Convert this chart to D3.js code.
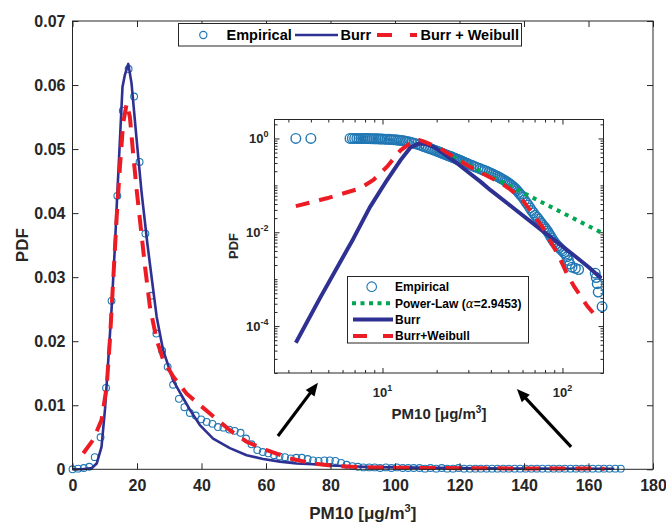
<!DOCTYPE html>
<html><head><meta charset="utf-8">
<script src="https://cdn.jsdelivr.net/npm/d3@7"></script>
<style>body{margin:0;background:#fff}</style>
</head><body><svg id="c" width="666" height="522"></svg>
<script>
// ---------- main plot data (PDF, linear axes) ----------
const binX = [0,1.7,3.5,5.2,6.9,8.7,10.4,12.1,13.9,15.6,
17.4,19.1,20.8,22.6,24.3,26.0,27.8,29.5,31.2,33.0,
34.7,36.4,38.2,39.9,41.6,43.4,45.1,46.8,48.6,50.3,
52.1,53.8,55.5,57.3,59.0,60.7,62.5,64.2,65.9,67.7,
69.4,71.1,72.9,74.6,76.3,78.1,79.8,81.5,83.3,85.0,
86.8,88.5,90.2,92.0,93.7,95.4,97.2,98.9,100.6,102.4,
104.1,105.8,107.6,109.3,111.0,112.8,114.5,116.2,118.0,119.7,
121.4,123.2,124.9,126.6,128.4,130.1,131.8,133.6,135.3,137.1,
138.8,140.5,142.3,144.0,145.7,147.5,149.2,150.9,152.7,154.4,
156.1,157.9,159.6,161.3,163.1,164.8,166.5,168.3,170.0];
const empPdf = [0,0.0001,0.0002,0.0004,0.0019,0.0050,0.0127,0.0263,0.0427,0.0560,
0.0625,0.0582,0.0480,0.0368,0.0271,0.0212,0.0185,0.0160,0.0132,0.0110,
0.0097,0.0088,0.0084,0.0078,0.0074,0.0071,0.0066,0.0065,0.0062,0.0060,
0.0057,0.0048,0.0039,0.0030,0.0027,0.0025,0.0022,0.0020,0.0019,0.0017,
0.0018,0.0018,0.0016,0.0014,0.0013,0.0014,0.0014,0.0013,0.0010,0.0007,
0.0005,0.0004,0.0003,0.0003,0.0003,0.0002,0.0003,0.0002,0.0003,0.0002,
0.0002,0.0002,0.0002,0.0001,0.0002,0.0001,0.0002,0.0001,0.0001,0.0002,
0.0001,0.0001,0.0001,0.0001,0.0001,0.0001,0.0001,0.0001,0.0001,0.0001,
0.0001,0.0001,0.0001,0.0001,0.0001,0.0001,0.0001,0.0001,0.0001,0.0001,
0.0001,0.0001,0.0001,0.0001,0.0001,0.0001,0.0001,0.0001,0.0001];

const burrX = [0,3,6,7.5,9.0,10.1,11.1,12.1,13.2,13.7,
14.7,15.5,16.2,17.3,18.3,19.9,21.4,23.2,24.5,26.1,
28.1,31.2,33.3,36.4,39.5,43.6,48.8,54,59.1,64.3,
69.5,74.6,80,90,100,120,140,168];
const burrPdf = [0,0,0.0002,0.0009,0.0035,0.0095,0.0171,0.0249,0.0353,0.041,
0.0514,0.0597,0.0615,0.0633,0.0603,0.0514,0.0433,0.0353,0.0301,0.0238,
0.0186,0.0139,0.0120,0.0093,0.0069,0.0048,0.0033,0.0022,0.0016,0.0012,
0.0009,0.0008,0.0006,0.0004,0.0003,0.00018,0.00012,0.00008];

const bwX = [3.35,6.4,9.0,10.6,11.6,12.4,13.2,13.7,14.7,15.7,
16.8,17.8,18.8,19.9,20.9,22.5,24.0,26.1,28.1,31.2,
35.4,42.6,48.8,54,60.2,67.4,74.6,81.9,90.1,110,
130,165];
const bwPdf = [0.0025,0.0046,0.0077,0.0129,0.0202,0.0275,0.0348,0.0394,0.0472,0.0540,
0.0571,0.0550,0.0493,0.0436,0.0390,0.0316,0.0254,0.0202,0.0171,0.0145,
0.0118,0.0087,0.0061,0.0043,0.0030,0.0017,0.0009,0.0005,0.0003,0.0002,
0.00015,0.0001];

const xTicksMain = [0,20,40,60,80,100,120,140,160,180];
const yTicksMain = [0,0.01,0.02,0.03,0.04,0.05,0.06,0.07];

// ---------- inset data (log-log) ----------
const ccdfX = [3.3,4.0,6.6,6.8,7.0,7.2,7.4,7.6,7.8,8.0,
8.2,8.4,8.6,8.8,9.0,9.2,9.4,9.6,9.8,10.0,
10.3,10.6,10.9,11.2,11.5,11.8,12.1,12.4,12.7,13.0,
13.3,13.6,14.0,14.5,15.0,15.5,16.0,16.5,17.0,17.5,
18.0,18.5,19.0,19.5,20.0,20.5,21.0,21.5,22.0,22.5,
23.0,23.5,24.0,24.5,25.0,25.5,26.0,26.5,27.0,27.5,
28.0,28.5,29.0,29.5,30,31,32,33,34,35,
36,37,38,39,40,41,42,43,44,45,
46,47,48,49,50,51,52,53,54,55,
56,57,58,59,60,61.5,63,64.5,66,67.5,
69,70.5,72,73.5,75,76.5,78,79.5,81,82.5,
84,85.5,87,88.5,90,92,94,96,98,100,
102,104,106,108,110,113,118,123,152,154,
156,158,166];
const ccdfY = [1.0,0.9997,0.9995,0.9992,0.999,0.9985,0.998,0.997,0.996,0.995,
0.994,0.992,0.990,0.988,0.986,0.984,0.981,0.978,0.975,0.972,
0.967,0.962,0.956,0.950,0.943,0.935,0.926,0.916,0.905,0.893,
0.880,0.866,0.850,0.820,0.790,0.760,0.730,0.700,0.670,0.645,
0.620,0.600,0.580,0.560,0.540,0.520,0.500,0.482,0.465,0.450,
0.435,0.422,0.410,0.397,0.385,0.372,0.360,0.350,0.340,0.330,
0.320,0.310,0.300,0.292,0.285,0.272,0.258,0.245,0.235,0.225,
0.215,0.207,0.199,0.190,0.182,0.174,0.166,0.159,0.152,0.145,
0.138,0.132,0.125,0.119,0.113,0.107,0.101,0.095,0.089,0.083,
0.077,0.071,0.066,0.061,0.056,0.049,0.043,0.038,0.033,0.029,
0.026,0.023,0.021,0.019,0.017,0.0155,0.014,0.0128,0.0117,0.0106,
0.0095,0.0085,0.0076,0.0068,0.0062,0.0056,0.0051,0.0047,0.0043,0.0040,
0.0037,0.0034,0.0030,0.0025,0.0021,0.0018,0.0017,0.0016,0.00134,0.00108,
0.0008,0.00053,0.00026];

const plX = [18,165];
const plY = [0.74,0.0098];
const plAlpha = "2.9453";

const bLogX = [3.3,4.5,6.9,8.5,10.6,12.6,14.3,15.9,17.5,19,
20,22,25,30,35,40,50,60,70,80,
90,100,120,140,164];
const bLogY = [4.4e-5,4.0e-4,7.4e-3,0.034,0.13,0.345,0.64,0.78,0.76,0.67,
0.60,0.47,0.33,0.19,0.12,0.078,0.040,0.023,0.0145,0.0097,
0.0069,0.0050,0.0029,0.0018,0.00105];

const bwLogX = [3.3,4.9,7.5,8.9,10.6,12.6,14.9,16,17,19.2,
21.4,24,30,35,40,45,50,55,60,66,
72,79,85,95,105,116,138,157];
const bwLogY = [0.036,0.053,0.086,0.13,0.25,0.56,0.89,0.93,0.86,0.70,
0.58,0.44,0.26,0.19,0.145,0.115,0.088,0.066,0.048,0.030,
0.019,0.0115,0.0068,0.0032,0.0014,0.0007,0.00026,0.000148];

const xMajorInset = [10,100];
const yMajorInset = [1e-4,1e-2,1];

// arrows (in main-axis data units)
const arrowTail = [[63.7,0.0052],[154.6,0.0035]];
const arrowHead = [[76.1,0.0135],[137.8,0.01255]];

// ---------- drawing ----------
const FONT = '"Liberation Sans", Arial, Helvetica, sans-serif';
const INK = "#262626";
const C_EMP = "#2077b4", C_BURR = "#2e3192", C_BW = "#ed1c24", C_PL = "#00a651";
const svg = d3.select("#c");
svg.append("rect").attr("width",666).attr("height",522).attr("fill","#fff");

const mx = d3.scaleLinear().domain([0,180]).range([72.5,653]);
const my = d3.scaleLinear().domain([0,0.07]).range([469.3,21]);

function styleAxis(g,size){
  g.attr("font-family",FONT).attr("font-size",size).attr("font-weight","bold");
  g.selectAll("text").attr("fill",INK);
  g.selectAll("line").attr("stroke",INK);
  g.select(".domain").remove();
}

const gM = svg.append("g");
gM.selectAll("circle").data(binX.map((v,i)=>[v,empPdf[i]])).join("circle")
  .attr("cx",d=>mx(d[0])).attr("cy",d=>my(d[1])).attr("r",3.4)
  .attr("fill","none").attr("stroke",C_EMP).attr("stroke-width",1.1);
const lineM = d3.line().x(d=>mx(d[0])).y(d=>my(d[1]));
gM.append("path").datum(burrX.map((v,i)=>[v,burrPdf[i]])).attr("d",lineM)
  .attr("fill","none").attr("stroke",C_BURR).attr("stroke-width",2.6).attr("stroke-linejoin","round");
gM.append("path").datum(bwX.map((v,i)=>[v,bwPdf[i]])).attr("d",lineM)
  .attr("fill","none").attr("stroke",C_BW).attr("stroke-width",4).attr("stroke-dasharray","16,10");

gM.append("g").attr("transform",`translate(0,${my(0)})`)
  .call(d3.axisBottom(mx).tickValues(xTicksMain).tickSize(-6).tickPadding(10).tickFormat(d=>String(d)))
  .call(g=>styleAxis(g,16));
gM.append("g").attr("transform",`translate(0,${my(0.07)})`)
  .call(d3.axisTop(mx).tickValues(xTicksMain).tickSize(-6).tickFormat(""))
  .call(g=>styleAxis(g,16));
gM.append("g").attr("transform",`translate(${mx(0)},0)`)
  .call(d3.axisLeft(my).tickValues(yTicksMain).tickSize(-6).tickPadding(7).tickFormat(d=>d===0?"0":d.toFixed(2)))
  .call(g=>styleAxis(g,16));
gM.append("g").attr("transform",`translate(${mx(180)},0)`)
  .call(d3.axisRight(my).tickValues(yTicksMain).tickSize(-6).tickFormat(""))
  .call(g=>styleAxis(g,16));
gM.append("rect").attr("x",mx(0)).attr("y",my(0.07)).attr("width",mx(180)-mx(0)).attr("height",my(0)-my(0.07))
  .attr("fill","none").attr("stroke",INK).attr("stroke-width",1);

// axis titles
gM.append("text").attr("transform",`translate(28,${(my(0)+my(0.07))/2}) rotate(-90)`)
  .attr("text-anchor","middle").attr("font-family",FONT).attr("font-weight","bold").attr("font-size",17).attr("fill",INK).text("PDF");
const xl = gM.append("text").attr("x",(mx(0)+mx(180))/2).attr("y",519).attr("text-anchor","middle")
  .attr("font-family",FONT).attr("font-weight","bold").attr("font-size",17).attr("fill",INK);
xl.append("tspan").text("PM10 [μg/m");
xl.append("tspan").attr("font-size",11).attr("dy",-7).text("3");
xl.append("tspan").attr("dy",7).text("]");

// main legend
const lg = svg.append("g").attr("font-family",FONT).attr("font-weight","bold").attr("font-size",14.5).attr("fill","#000");
lg.append("rect").attr("x",178.5).attr("y",23.5).attr("width",343).attr("height",22.5).attr("fill","#fff").attr("stroke",INK);
lg.append("circle").attr("cx",203.3).attr("cy",35).attr("r",3.6).attr("fill","none").attr("stroke",C_EMP).attr("stroke-width",1.2);
lg.append("text").attr("x",226.5).attr("y",40.2).text("Empirical");
lg.append("line").attr("x1",295).attr("x2",338).attr("y1",35).attr("y2",35).attr("stroke",C_BURR).attr("stroke-width",2.6);
lg.append("text").attr("x",340.5).attr("y",40.2).text("Burr");
lg.append("line").attr("x1",377).attr("x2",417).attr("y1",35).attr("y2",35).attr("stroke",C_BW).attr("stroke-width",4).attr("stroke-dasharray","15,18");
lg.append("text").attr("x",420.5).attr("y",40.2).text("Burr + Weibull");

// arrows
arrowTail.forEach((t,i)=>{
  const h = arrowHead[i];
  const x0=mx(t[0]), y0=my(t[1]), x1=mx(h[0]), y1=my(h[1]);
  const dx=x1-x0, dy=y1-y0, L=Math.hypot(dx,dy), ux=dx/L, uy=dy/L;
  const hl=13, hw=5.5, bx=x1-ux*hl, by=y1-uy*hl;
  svg.append("line").attr("x1",x0).attr("y1",y0).attr("x2",bx+ux*2).attr("y2",by+uy*2)
    .attr("stroke","#000").attr("stroke-width",3.2);
  svg.append("path").attr("d",`M${x1},${y1}L${bx-uy*hw},${by+ux*hw}L${bx+uy*hw},${by-ux*hw}Z`).attr("fill","#000");
});

// ---------- inset ----------
const ix = d3.scaleLog().domain([Math.pow(10,0.4),Math.pow(10,2.228)]).range([274.5,603.5]);
const iy = d3.scaleLog().domain([1e-5,Math.pow(10,0.404)]).range([373,119.5]);
const gI = svg.append("g");
gI.append("rect").attr("x",274.5).attr("y",119.5).attr("width",329).attr("height",253.5).attr("fill","#fff");

const minorX = [], minorY = [];
for (let e=0;e<=2;e++) for (let k=2;k<=9;k++){const v=k*Math.pow(10,e); if(v>ix.domain()[0]&&v<ix.domain()[1]) minorX.push(v);}
for (let e=-5;e<=0;e++) for (let k=1;k<=9;k++){const v=k*Math.pow(10,e); if(v>=iy.domain()[0]&&v<iy.domain()[1]&&yMajorInset.indexOf(v)<0) minorY.push(v);}

function tickSet(axisFn, scale, vals, size, tr){
  gI.append("g").attr("transform",tr).call(axisFn(scale).tickValues(vals).tickSize(-size).tickFormat("")).call(g=>styleAxis(g,12));
}
tickSet(d3.axisBottom, ix, minorX, 3, `translate(0,373)`);
tickSet(d3.axisBottom, ix, xMajorInset, 5, `translate(0,373)`);
tickSet(d3.axisTop, ix, minorX, 3, `translate(0,119.5)`);
tickSet(d3.axisTop, ix, xMajorInset, 5, `translate(0,119.5)`);
tickSet(d3.axisLeft, iy, minorY, 3, `translate(274.5,0)`);
tickSet(d3.axisLeft, iy, yMajorInset, 5, `translate(274.5,0)`);
tickSet(d3.axisRight, iy, minorY, 3, `translate(603.5,0)`);
tickSet(d3.axisRight, iy, yMajorInset, 5, `translate(603.5,0)`);

// data marks
gI.selectAll("circle.c").data(ccdfX.map((v,i)=>[v,ccdfY[i]])).join("circle")
  .attr("cx",d=>ix(d[0])).attr("cy",d=>iy(d[1])).attr("r",4.8)
  .attr("fill","none").attr("stroke",C_EMP).attr("stroke-width",1.4);
const lineI = d3.line().x(d=>ix(d[0])).y(d=>iy(d[1]));
gI.append("path").datum(plX.map((v,i)=>[v,plY[i]])).attr("d",lineI)
  .attr("fill","none").attr("stroke",C_PL).attr("stroke-width",4).attr("stroke-dasharray","4,5");
gI.append("path").datum(bLogX.map((v,i)=>[v,bLogY[i]])).attr("d",lineI)
  .attr("fill","none").attr("stroke",C_BURR).attr("stroke-width",4).attr("stroke-linejoin","round");
gI.append("path").datum(bwLogX.map((v,i)=>[v,bwLogY[i]])).attr("d",lineI)
  .attr("fill","none").attr("stroke",C_BW).attr("stroke-width",4).attr("stroke-dasharray","14,10");

gI.append("rect").attr("x",274.5).attr("y",119.5).attr("width",329).attr("height",253.5)
  .attr("fill","none").attr("stroke",INK).attr("stroke-width",1);

// inset tick labels
const tl = gI.append("g").attr("font-family",FONT).attr("font-weight","bold").attr("fill",INK);
xMajorInset.forEach(v=>{
  const t = tl.append("text").attr("x",ix(v)).attr("y",397).attr("text-anchor","middle").attr("font-size",13);
  t.append("tspan").text("10");
  t.append("tspan").attr("font-size",9).attr("dy",-6).text(String(Math.round(Math.log10(v))));
});
yMajorInset.forEach(v=>{
  const t = tl.append("text").attr("x",268.5).attr("y",iy(v)+4.5).attr("text-anchor","end").attr("font-size",13);
  t.append("tspan").text("10");
  t.append("tspan").attr("font-size",9).attr("dy",-6).text(String(Math.round(Math.log10(v))));
});
tl.append("text").attr("transform",`translate(238,246) rotate(-90)`).attr("text-anchor","middle").attr("font-size",13).text("PDF");
const ixl = tl.append("text").attr("x",439).attr("y",419).attr("text-anchor","middle").attr("font-size",15);
ixl.append("tspan").text("PM10 [μg/m");
ixl.append("tspan").attr("font-size",10).attr("dy",-6).text("3");
ixl.append("tspan").attr("dy",6).text("]");

// inset legend
const il = gI.append("g").attr("font-family",FONT).attr("font-weight","bold").attr("font-size",12).attr("fill","#000");
il.append("rect").attr("x",347.5).attr("y",276.5).attr("width",181).attr("height",66.5).attr("fill","#fff").attr("stroke",INK);
const rows = [286.7,303.3,319.6,336];
il.append("circle").attr("cx",371.7).attr("cy",rows[0]).attr("r",4.8).attr("fill","none").attr("stroke",C_EMP).attr("stroke-width",1.1);
il.append("text").attr("x",395).attr("y",rows[0]+4.3).text("Empirical");
il.append("line").attr("x1",352).attr("x2",391).attr("y1",rows[1]).attr("y2",rows[1]).attr("stroke",C_PL).attr("stroke-width",4).attr("stroke-dasharray","4,4.5");
const plt = il.append("text").attr("x",395).attr("y",rows[1]+4.3);
plt.append("tspan").text("Power-Law (");
plt.append("tspan").attr("font-weight","normal").attr("font-family","'DejaVu Serif', serif").attr("font-style","italic").text("α");
plt.append("tspan").text("=" + plAlpha + ")");
il.append("line").attr("x1",353).attr("x2",393).attr("y1",rows[2]).attr("y2",rows[2]).attr("stroke",C_BURR).attr("stroke-width",4);
il.append("text").attr("x",395).attr("y",rows[2]+4.3).text("Burr");
il.append("line").attr("x1",353).attr("x2",393).attr("y1",rows[3]).attr("y2",rows[3]).attr("stroke",C_BW).attr("stroke-width",4).attr("stroke-dasharray","14,16");
il.append("text").attr("x",395).attr("y",rows[3]+4.3).text("Burr+Weibull");
</script>
</body></html>
